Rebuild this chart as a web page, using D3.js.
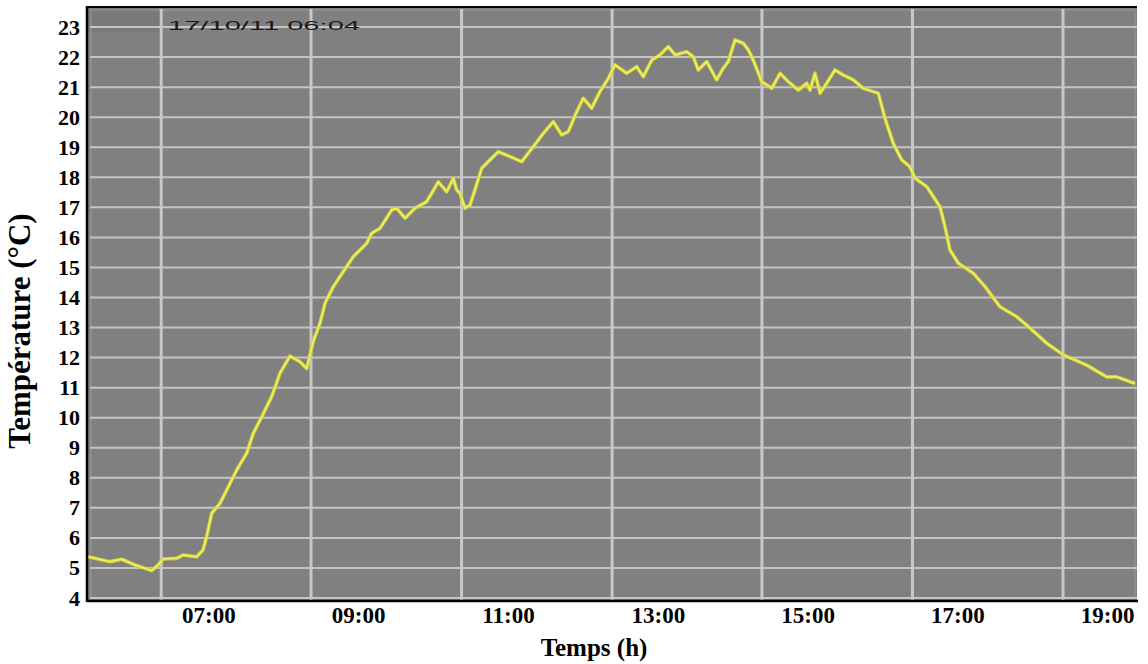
<!DOCTYPE html>
<html>
<head>
<meta charset="utf-8">
<script src="https://cdn.jsdelivr.net/npm/d3@7"></script>
<style>
  html, body { margin: 0; padding: 0; background: #ffffff; }
  svg { display: block; }
</style>
</head>
<body>
<svg id="chart" width="1148" height="664"></svg>
<script>
// ---- data (time in decimal hours, temperature in °C) ----
const times = [5.393, 5.686, 5.842, 6.020, 6.243, 6.331, 6.394, 6.577, 6.661, 6.844,
  6.928, 6.977, 7.044, 7.155, 7.266, 7.378, 7.511, 7.599, 7.712, 7.845,
  7.956, 8.089, 8.223, 8.312, 8.401, 8.490, 8.557, 8.668, 8.846, 8.935,
  9.113, 9.180, 9.291, 9.447, 9.514, 9.625, 9.758, 9.915, 9.981, 10.069,
  10.182, 10.270, 10.315, 10.359, 10.426, 10.493, 10.559, 10.649, 10.760, 10.870,
  11.027, 11.183, 11.338, 11.471, 11.605, 11.717, 11.805, 11.917, 12.005, 12.117,
  12.228, 12.339, 12.429, 12.585, 12.718, 12.806, 12.919, 13.029, 13.140, 13.230,
  13.386, 13.474, 13.541, 13.653, 13.786, 13.874, 13.941, 14.031, 14.142, 14.208,
  14.275, 14.387, 14.521, 14.632, 14.742, 14.876, 14.988, 15.032, 15.099, 15.166,
  15.255, 15.366, 15.477, 15.610, 15.744, 15.877, 15.944, 16.033, 16.144, 16.256,
  16.367, 16.434, 16.590, 16.768, 16.834, 16.901, 17.012, 17.212, 17.369, 17.569,
  17.792, 17.925, 18.192, 18.414, 18.726, 18.993, 19.127, 19.371];
const temps = [5.37, 5.21, 5.29, 5.10, 4.91, 5.10, 5.30, 5.32, 5.43, 5.37,
  5.60, 6.04, 6.82, 7.15, 7.70, 8.26, 8.82, 9.48, 10.03, 10.70,
  11.48, 12.05, 11.86, 11.64, 12.55, 13.14, 13.81, 14.36, 15.03, 15.36,
  15.80, 16.14, 16.30, 16.91, 16.97, 16.64, 16.97, 17.19, 17.47, 17.85,
  17.52, 17.97, 17.58, 17.47, 16.97, 17.08, 17.58, 18.30, 18.58, 18.85,
  18.69, 18.52, 19.02, 19.46, 19.85, 19.41, 19.52, 20.18, 20.63, 20.30,
  20.85, 21.29, 21.74, 21.46, 21.68, 21.35, 21.90, 22.07, 22.35, 22.07,
  22.18, 22.01, 21.57, 21.85, 21.24, 21.63, 21.85, 22.57, 22.46, 22.24,
  21.90, 21.18, 20.96, 21.46, 21.18, 20.90, 21.13, 20.90, 21.46, 20.80,
  21.13, 21.57, 21.40, 21.24, 20.96, 20.85, 20.80, 19.96, 19.13, 18.58,
  18.35, 17.97, 17.69, 17.02, 16.36, 15.58, 15.14, 14.81, 14.36, 13.69,
  13.36, 13.08, 12.48, 12.09, 11.75, 11.36, 11.36, 11.14];

const xTickHours = [7, 9, 11, 13, 15, 17, 19];
const xTickLabels = ["07:00", "09:00", "11:00", "13:00", "15:00", "17:00", "19:00"];
const yTicks = [4, 5, 6, 7, 8, 9, 10, 11, 12, 13, 14, 15, 16, 17, 18, 19, 20, 21, 22, 23];
const vGridHours = [6.37, 8.37, 10.38, 12.39, 14.39, 16.40, 18.41];
const stampText = "17/10/11 06:04";
const xTitle = "Temps (h)";
const yTitle = "Température (°C)";

// ---- layout ----
const plot = { left: 87, right: 1137, top: 7, bottom: 601 };
const svg = d3.select("#chart");

const x = d3.scaleLinear()
  .domain([13 + (plot.left - 657.8) / 74.9, 13 + (plot.right - 657.8) / 74.9])
  .range([plot.left, plot.right]);
const y = d3.scaleLinear()
  .domain([3.9, 23.667])
  .range([plot.bottom, plot.top]);

// background panel
svg.append("rect")
  .attr("x", plot.left).attr("y", plot.top)
  .attr("width", plot.right - plot.left).attr("height", plot.bottom - plot.top)
  .attr("fill", "#808080");

// darker corner block (left of first vertical grid line, top row)
svg.append("rect")
  .attr("x", plot.left).attr("y", plot.top)
  .attr("width", x(vGridHours[0]) - plot.left).attr("height", y(23) + 5 - plot.top)
  .attr("fill", "#797979");

// inner light frame
svg.append("rect")
  .attr("x", plot.left + 4).attr("y", plot.top + 3)
  .attr("width", plot.right - plot.left - 6).attr("height", plot.bottom - plot.top - 6)
  .attr("fill", "none").attr("stroke", "#989898").attr("stroke-width", 1);

// horizontal grid
svg.append("g").selectAll("line")
  .data(yTicks)
  .join("line")
  .attr("x1", plot.left + 3).attr("x2", plot.right)
  .attr("y1", d => y(d)).attr("y2", d => y(d))
  .attr("stroke", "#c4c4c4").attr("stroke-width", 2);

// vertical grid
svg.append("g").selectAll("line")
  .data(vGridHours)
  .join("line")
  .attr("x1", d => x(d)).attr("x2", d => x(d))
  .attr("y1", plot.top + 2).attr("y2", plot.bottom - 1)
  .attr("stroke", "#c8c8c8").attr("stroke-width", 3);

// date stamp
svg.append("text")
  .attr("x", 168).attr("y", y(23) + 3)
  .attr("font-family", "Liberation Sans, Arial, sans-serif")
  .attr("font-size", 12)
  .attr("fill", "#1a1a1a")
  .attr("textLength", 192)
  .attr("lengthAdjust", "spacingAndGlyphs")
  .text(stampText);

// temperature line
const pts = times.map((t, i) => [t, temps[i]]);
const line = d3.line().x(d => x(d[0])).y(d => y(d[1]));
svg.append("path")
  .datum(pts)
  .attr("d", line)
  .attr("fill", "none")
  .attr("stroke", "#d2d238")
  .attr("stroke-width", 3.6)
  .attr("stroke-linejoin", "round");
svg.append("path")
  .datum(pts)
  .attr("d", line)
  .attr("fill", "none")
  .attr("stroke", "#f0f06a")
  .attr("stroke-width", 1.5)
  .attr("stroke-linejoin", "round");

// frame (black) left, top, bottom
svg.append("line").attr("x1", plot.left).attr("x2", plot.left)
  .attr("y1", plot.top - 1).attr("y2", plot.bottom + 1)
  .attr("stroke", "#000").attr("stroke-width", 2.5);
svg.append("line").attr("x1", plot.left).attr("x2", plot.right)
  .attr("y1", plot.top).attr("y2", plot.top)
  .attr("stroke", "#000").attr("stroke-width", 2);
svg.append("line").attr("x1", plot.left).attr("x2", plot.right + 1)
  .attr("y1", plot.bottom).attr("y2", plot.bottom)
  .attr("stroke", "#000").attr("stroke-width", 2.5);

// y axis labels
const yAxis = d3.axisLeft(y).tickValues(yTicks).tickSize(0).tickPadding(0)
  .tickFormat(d3.format("d"));
const gy = svg.append("g").attr("transform", `translate(${plot.left - 7},0)`).call(yAxis);
gy.select(".domain").remove();
gy.selectAll("text")
  .attr("font-family", "Liberation Serif, Times New Roman, serif")
  .attr("font-weight", "bold")
  .attr("font-size", 22)
  .attr("fill", "#000");

// x axis labels
const xAxis = d3.axisBottom(x).tickValues(xTickHours).tickSize(0).tickPadding(0)
  .tickFormat((d, i) => xTickLabels[i]);
const gx = svg.append("g").attr("transform", `translate(0,${plot.bottom + 6})`).call(xAxis);
gx.select(".domain").remove();
gx.selectAll("text")
  .attr("font-family", "Liberation Serif, Times New Roman, serif")
  .attr("font-weight", "bold")
  .attr("font-size", 23)
  .attr("fill", "#000");

// axis titles
svg.append("text")
  .attr("x", 594).attr("y", 656)
  .attr("text-anchor", "middle")
  .attr("font-family", "Liberation Serif, Times New Roman, serif")
  .attr("font-weight", "bold")
  .attr("font-size", 25)
  .text(xTitle);

svg.append("text")
  .attr("transform", "translate(30,331) rotate(-90)")
  .attr("text-anchor", "middle")
  .attr("font-family", "Liberation Serif, Times New Roman, serif")
  .attr("font-weight", "bold")
  .attr("font-size", 31)
  .text(yTitle);
</script>
</body>
</html>
